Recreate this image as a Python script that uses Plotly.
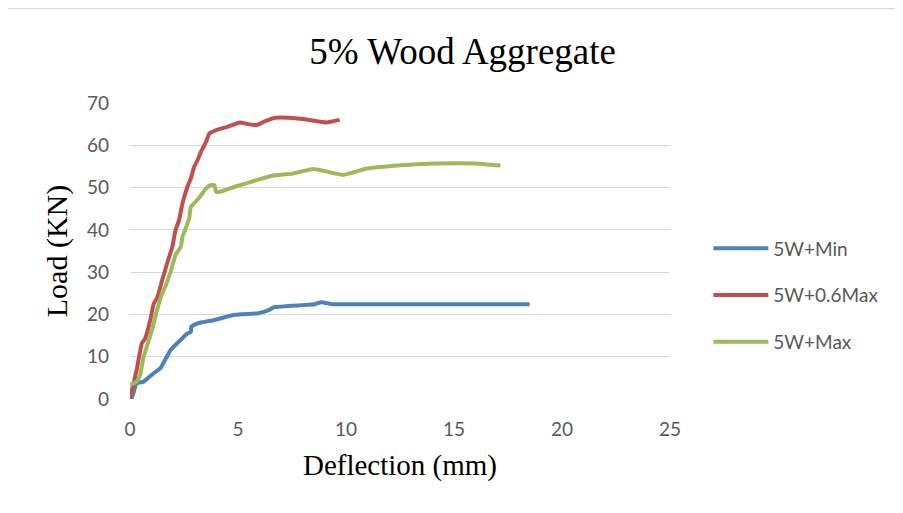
import plotly.graph_objects as go

# 5W+Min
min_x = [0, 0.08, 0.31, 0.63, 1.10, 1.41, 1.88, 2.35, 2.66, 2.82, 2.84, 3.13, 3.91, 4.86, 5.95, 6.42, 6.66, 7.99, 8.54, 8.85, 9.40, 10.34, 14.0, 18.5]
min_y = [0, 0.2, 3.7, 4.1, 6.1, 7.3, 11.6, 14.0, 15.5, 15.9, 17.1, 17.9, 18.7, 19.9, 20.3, 21.0, 21.7, 22.2, 22.4, 22.9, 22.4, 22.4, 22.4, 22.4]

# 5W+0.6Max
mid_x = [0, 0.16, 0.31, 0.55, 0.70, 0.94, 1.10, 1.25, 1.49, 1.72, 1.96, 2.11, 2.27, 2.43, 2.66, 2.82, 2.97, 3.13, 3.29, 3.52, 3.68, 3.99, 4.54, 5.09, 5.48, 5.87, 6.26, 6.73, 7.36, 8.30, 9.08, 9.71]
mid_y = [0, 3.7, 6.9, 13.2, 14.3, 18.7, 22.6, 23.8, 28.1, 32.1, 36.0, 40.0, 42.3, 46.3, 50.2, 52.2, 54.9, 56.5, 58.5, 60.8, 62.8, 63.6, 64.4, 65.4, 65.0, 64.8, 65.7, 66.5, 66.5, 66.0, 65.4, 66.0]

# 5W+Max
max_x = [0, 0.31, 0.47, 0.63, 0.78, 1.02, 1.25, 1.49, 1.64, 1.88, 2.11, 2.35, 2.43, 2.58, 2.74, 2.82, 3.05, 3.29, 3.52, 3.76, 3.91, 3.99, 4.15, 4.86, 5.64, 6.58, 7.52, 8.46, 8.93, 9.87, 10.97, 12.53, 14.10, 15.98, 17.15]
max_y = [3.3, 4.1, 5.7, 10.0, 12.4, 16.3, 21.0, 25.0, 26.6, 30.1, 34.1, 36.0, 38.4, 40.4, 42.7, 45.5, 46.7, 48.2, 49.8, 50.6, 50.6, 49.0, 49.0, 50.2, 51.4, 52.8, 53.3, 54.4, 54.0, 53.0, 54.5, 55.3, 55.7, 55.7, 55.2]

x_ticks = [0, 5, 10, 15, 20, 25]
y_ticks = [0, 10, 20, 30, 40, 50, 60, 70]

series = [
    ("5W+Min", min_x, min_y, "#4F81BD"),
    ("5W+0.6Max", mid_x, mid_y, "#C0504D"),
    ("5W+Max", max_x, max_y, "#9BBB59"),
]

fig = go.Figure()
for name, xs, ys, col in series:
    fig.add_trace(go.Scatter(
        x=xs, y=ys, mode="lines", name=name, legendgroup=name,
        line=dict(color=col, width=4, shape="spline", smoothing=0.4),
    ))

fig.update_layout(
    width=895, height=505,
    margin=dict(l=122, r=233, t=95, b=114),
    paper_bgcolor="white", plot_bgcolor="white",
    title=dict(text="5% Wood Aggregate", x=0.508, xanchor="center", y=0.915, yanchor="middle",
               font=dict(family="Liberation Serif", size=37, color="black")),
    xaxis=dict(range=[0, 25], tickvals=x_ticks, showgrid=False, zeroline=False,
               showline=False, ticks="", ticklabelstandoff=17,
               tickfont=dict(family="Lato", size=19, color="#595959"),
               title=dict(text="Deflection (mm)", font=dict(family="Liberation Serif", size=29, color="black"), standoff=15)),
    yaxis=dict(range=[0, 70], tickvals=y_ticks, showgrid=True,
               gridcolor="#D9D9D9", gridwidth=1.3, zeroline=False, showline=False, ticks="",
               ticklabelstandoff=20,
               tickfont=dict(family="Lato", size=19, color="#595959"),
               title=dict(text="Load (KN)", font=dict(family="Liberation Serif", size=30, color="black"), standoff=10)),
    legend=dict(x=1.071, y=0.35, xanchor="left", yanchor="middle", tracegroupgap=19, itemwidth=55,
                font=dict(family="Lato", size=19, color="#595959"), bgcolor="rgba(0,0,0,0)"),
    shapes=[
        dict(type="line", xref="paper", yref="paper", x0=-0.2284, x1=1.5, y0=1.319, y1=1.319,
             line=dict(color="#D9D9D9", width=1.5)),
        dict(type="line", xref="paper", yref="paper", x0=-0.2284, x1=-0.2284, y0=1.319, y1=-0.4,
             line=dict(color="#D9D9D9", width=1.5)),
    ],
)

fig.write_html("out.html")
